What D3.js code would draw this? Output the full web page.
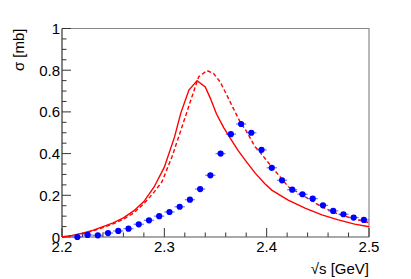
<!DOCTYPE html>
<html>
<head>
<meta charset="utf-8">
<script src="https://cdn.jsdelivr.net/npm/d3@7"></script>
<style>
  body { margin: 0; background: #fff; }
  text { font-family: "Liberation Sans", Arial, sans-serif; }
</style>
</head>
<body>
<div id="chart"></div>
<script>
'use strict'
var width = 411;
var height = 279;

// measured cross section points (centre of 0.01 GeV bins)
var dataX = [2.215, 2.225, 2.235, 2.245, 2.255, 2.265, 2.275, 2.285, 2.295, 2.305,
	2.315, 2.325, 2.335, 2.345, 2.355, 2.365, 2.375, 2.385, 2.395, 2.405,
	2.415, 2.425, 2.435, 2.445, 2.455, 2.465, 2.475, 2.485, 2.495];
var dataY = [0.000, 0.010, 0.008, 0.019, 0.029, 0.040, 0.061, 0.080, 0.100, 0.120,
	0.145, 0.179, 0.230, 0.296, 0.400, 0.493, 0.542, 0.500, 0.418, 0.332,
	0.272, 0.227, 0.205, 0.184, 0.152, 0.125, 0.109, 0.093, 0.082];
var dataXErr = 0.005;

// model curves
var solidX = [2.200, 2.210, 2.220, 2.230, 2.240, 2.250, 2.260, 2.270, 2.280, 2.290,
	2.300, 2.310, 2.316, 2.324, 2.332, 2.340, 2.345, 2.351, 2.358, 2.365,
	2.372, 2.379, 2.389, 2.398, 2.405, 2.421, 2.4375, 2.454, 2.470, 2.486, 2.500];
var solidY = [0.000, 0.008, 0.018, 0.032, 0.050, 0.068, 0.092, 0.125, 0.170, 0.240,
	0.335, 0.480, 0.593, 0.705, 0.750, 0.720, 0.665, 0.590, 0.525, 0.470,
	0.415, 0.369, 0.305, 0.257, 0.225, 0.177, 0.138, 0.106, 0.082, 0.062, 0.049];

var dashX = [2.200, 2.210, 2.220, 2.230, 2.240, 2.250, 2.260, 2.270, 2.280, 2.290,
	2.2977, 2.3075, 2.3173, 2.327, 2.3336, 2.3417, 2.348, 2.3544, 2.361, 2.3674,
	2.374, 2.3805, 2.3886, 2.3918, 2.4049, 2.4211, 2.4375, 2.4538, 2.470, 2.4863, 2.500];
var dashY = [0.000, 0.007, 0.016, 0.029, 0.045, 0.063, 0.085, 0.115, 0.160, 0.215,
	0.265, 0.385, 0.529, 0.673, 0.769, 0.798, 0.785, 0.745, 0.681, 0.617,
	0.553, 0.505, 0.433, 0.417, 0.337, 0.241, 0.193, 0.145, 0.110, 0.085, 0.069];

var xTicks = [2.2, 2.3, 2.4, 2.5];
var yTicks = [0, 0.2, 0.4, 0.6, 0.8, 1];

var margin = {left: 62, right: 42, top: 28.5, bottom: 42};

var svg = d3.select("#chart")
	.append('svg')
	.attr("width", width)
	.attr("height", height);

var x = d3.scaleLinear().domain([2.2, 2.5]).range([margin.left, width - margin.right]);
var y = d3.scaleLinear().domain([0, 1]).range([height - margin.bottom, margin.top]);

var x0 = x.range()[0], x1 = x.range()[1];
var y0 = y.range()[0], y1 = y.range()[1];

// frame (top / right)
svg.append("path")
	.attr("d", "M" + x0 + "," + y1 + "H" + x1 + "V" + y0)
	.style("fill", "none")
	.style("stroke", "#888")
	.style("stroke-width", 1.2);

// minor ticks
var xMinor = d3.range(2.2, 2.5001, 0.02);
var yMinor = d3.range(0, 1.0001, 0.05);

svg.append("g")
	.selectAll("line")
	.data(xMinor)
	.enter()
	.append("line")
		.attr("x1", function(d){ return x(d); })
		.attr("x2", function(d){ return x(d); })
		.attr("y1", y0)
		.attr("y2", function(d){ return xTicks.some(function(t){ return Math.abs(t - d) < 1e-6; }) ? y0 - 9 : y0 - 4.5; })
		.style("stroke", "#333")
		.style("stroke-width", 1);

svg.append("g")
	.selectAll("line")
	.data(yMinor)
	.enter()
	.append("line")
		.attr("y1", function(d){ return y(d); })
		.attr("y2", function(d){ return y(d); })
		.attr("x1", x0)
		.attr("x2", function(d){ return yTicks.some(function(t){ return Math.abs(t - d) < 1e-6; }) ? x0 + 9 : x0 + 4.5; })
		.style("stroke", "#333")
		.style("stroke-width", 1);

// axis lines
svg.append("line")
	.attr("x1", x0).attr("x2", x1).attr("y1", y0).attr("y2", y0)
	.style("stroke", "#555").style("stroke-width", 1.2);
svg.append("line")
	.attr("x1", x0).attr("x2", x0).attr("y1", y0).attr("y2", y1)
	.style("stroke", "#333").style("stroke-width", 1.2);

// tick labels
svg.append("g")
	.selectAll("text")
	.data(xTicks)
	.enter()
	.append("text")
		.attr("x", function(d){ return x(d); })
		.attr("y", y0 + 15)
		.attr("text-anchor", "middle")
		.style("font-size", "15px")
		.text(function(d){ return d3.format(".1f")(d); });

svg.append("g")
	.selectAll("text")
	.data(yTicks)
	.enter()
	.append("text")
		.attr("x", x0 - 2)
		.attr("y", function(d){ return y(d) + 5.5; })
		.attr("text-anchor", "end")
		.style("font-size", "15px")
		.text(function(d){ return (d === 0 || d === 1) ? String(d) : d3.format(".1f")(d); });

// axis titles
svg.append("text")
	.attr("transform", "translate(24," + y1 + ") rotate(-90)")
	.attr("text-anchor", "end")
	.style("font-size", "15px")
	.text("σ [mb]");

svg.append("text")
	.attr("x", x1)
	.attr("y", height - 5)
	.attr("text-anchor", "end")
	.style("font-size", "15px")
	.text("√s [GeV]");

// curves
var line = d3.line()
	.x(function(d){ return x(d[0]); })
	.y(function(d){ return y(d[1]); });

svg.append("path")
	.attr("d", line(d3.zip(dashX, dashY)))
	.style("fill", "none")
	.style("stroke", "#ff0000")
	.style("stroke-width", 1.4)
	.style("stroke-dasharray", "4,2.5");

svg.append("path")
	.attr("d", line(d3.zip(solidX, solidY)))
	.style("fill", "none")
	.style("stroke", "#ff0000")
	.style("stroke-width", 1.4);

// data points with horizontal error bars
var pts = d3.zip(dataX, dataY);

svg.append("g")
	.selectAll("line")
	.data(pts)
	.enter()
	.append("line")
		.attr("x1", function(d){ return x(d[0] - dataXErr); })
		.attr("x2", function(d){ return x(d[0] + dataXErr); })
		.attr("y1", function(d){ return y(d[1]); })
		.attr("y2", function(d){ return y(d[1]); })
		.style("stroke", "#3b4dff")
		.style("stroke-opacity", 0.7)
		.style("stroke-width", 1.3);

svg.append("g")
	.selectAll("circle")
	.data(pts)
	.enter()
	.append("circle")
		.attr("cx", function(d){ return x(d[0]); })
		.attr("cy", function(d){ return y(d[1]); })
		.attr("r", 3.1)
		.style("fill", "#0000ff");
</script>
</body>
</html>
